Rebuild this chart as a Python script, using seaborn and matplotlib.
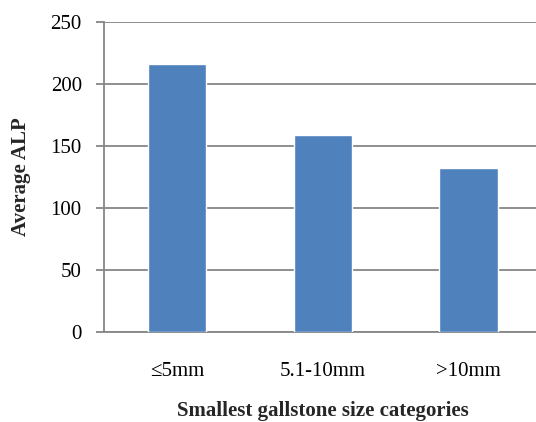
import pandas as pd
import seaborn as sns
import matplotlib.pyplot as plt

# values
categories = ['≤5mm', '5.1-10mm', '>10mm']
avg_alp = [216, 158.5, 132.5]
yticks = [0, 50, 100, 150, 200, 250]

df = pd.DataFrame({'size': categories, 'alp': avg_alp})

sns.set_style('white')
plt.rcParams['font.family'] = ['Liberation Serif', 'DejaVu Serif']

fig = plt.figure(figsize=(5.36, 4.22), dpi=100)
ax = fig.add_axes([0.194, 0.214, 0.816, 0.734])

sns.barplot(data=df, x='size', y='alp', color='#4F81BD', saturation=1,
            width=0.4, ax=ax, zorder=3)

ax.set_ylim(0, 250)
ax.set_xlim(-0.5, 2.5)
ax.set_yticks(yticks)
ax.yaxis.grid(True, color='#868686', linewidth=1.3, zorder=0)
ax.set_axisbelow(True)

for s in ['top', 'right']:
    ax.spines[s].set_visible(False)
for s in ['left', 'bottom']:
    ax.spines[s].set_color('#868686')
    ax.spines[s].set_linewidth(1.3)

ax.tick_params(axis='y', which='major', left=True, length=6, width=1.3,
               color='#868686', labelsize=15, pad=10, labelcolor='black')
ax.tick_params(axis='x', bottom=False, labelsize=15, pad=18,
               labelcolor='black')

ax.set_ylabel('Average ALP', fontsize=15, fontweight='bold', labelpad=14)
ax.set_xlabel('Smallest gallstone size categories', fontsize=15,
              fontweight='bold', labelpad=15)

fig.savefig('out.png', dpi=100)
